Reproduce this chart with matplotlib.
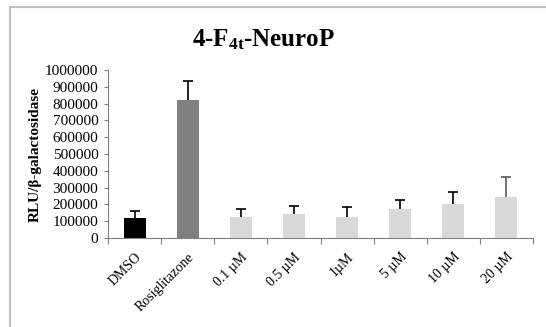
import matplotlib
matplotlib.use("Agg")
import matplotlib.pyplot as plt
from matplotlib.patches import Rectangle
import numpy as np

plt.rcParams['font.family'] = ['Liberation Serif', 'DejaVu Serif']
plt.rcParams['mathtext.fontset'] = 'custom'
plt.rcParams['mathtext.rm'] = 'Liberation Serif:bold'
plt.rcParams['mathtext.it'] = 'Liberation Serif:bold'
plt.rcParams['mathtext.bf'] = 'Liberation Serif:bold'

# data
categories = ['DMSO', 'Rosiglitazone', '0.1 µM', '0.5 µM', '1µM', '5 µM', '10 µM', '20 µM']
values = [120000, 820000, 128000, 142000, 128000, 175000, 200000, 245000]
errors = [40000, 112000, 44000, 48000, 55000, 50000, 75000, 120000]
colors = ['#000000', '#808080', '#d9d9d9', '#d9d9d9', '#d9d9d9', '#d9d9d9', '#d9d9d9', '#d9d9d9']
err_colors = ['#000000', '#000000', '#000000', '#000000', '#000000', '#000000', '#000000', '#5a5a5a']

fig = plt.figure(figsize=(5.46, 3.27), dpi=100)
ax = fig.add_axes([0.198, 0.272, 0.778, 0.514])

# chart border like the excel chart area
fig.patches.append(Rectangle((10 / 546, -0.1), 1.2, 1 - 7 / 327 + 0.1, transform=fig.transFigure,
                             fill=False, edgecolor='#c0c0c0', linewidth=1.5))

x = np.arange(len(categories))
ax.bar(x, values, width=0.42, color=colors, zorder=2)
# symmetric error bars drawn behind the bars, so only the upper half shows
for i in range(len(categories)):
    ax.errorbar(x[i], values[i], yerr=errors[i], fmt='none', ecolor=err_colors[i],
                elinewidth=1.2, capsize=3.5, capthick=1.2, zorder=1)

ax.set_xlim(-0.5, len(categories) - 0.5)
ax.set_ylim(0, 1000000)
ax.set_yticks(np.arange(0, 1000001, 100000))
ax.set_yticklabels([str(v) for v in range(0, 1000001, 100000)], fontsize=11)
ax.tick_params(axis='y', length=3, color='#808080', pad=4)

# category ticks sit between bars, labels at bar centres
ax.set_xticks(np.arange(-0.5, len(categories), 1))
ax.set_xticklabels([])
ax.set_xticks(x, minor=True)
ax.set_xticklabels(categories, minor=True, rotation=45, ha='right', rotation_mode='anchor', fontsize=10)
ax.tick_params(axis='x', which='major', length=4, color='#808080')
ax.tick_params(axis='x', which='minor', length=0, pad=9)

for s in ['top', 'right']:
    ax.spines[s].set_visible(False)
ax.spines['left'].set_color('#808080')
ax.spines['bottom'].set_color('#808080')

ax.set_ylabel('RLU/β-galactosidase', fontsize=11, fontweight='bold')
ax.yaxis.set_label_coords(-0.155, 0.5)
fig.text(0.483, 0.878, r'4-F$_{4t}$-NeuroP', ha='center', va='center', fontsize=18, fontweight='bold')

fig.savefig('out.png', dpi=100)
